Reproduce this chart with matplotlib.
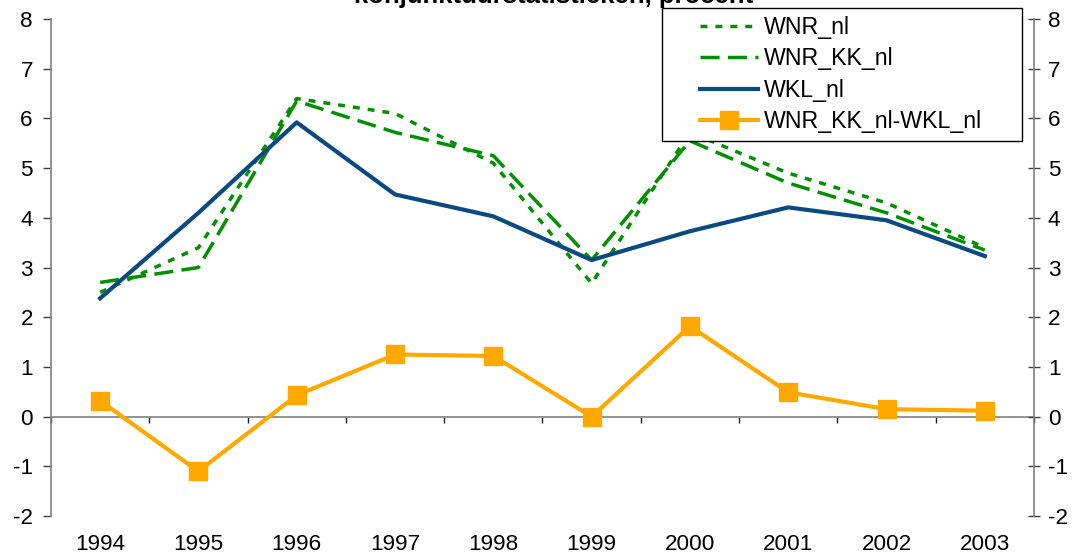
import numpy as np
import matplotlib
matplotlib.use('Agg')
import matplotlib.pyplot as plt
from matplotlib.legend_handler import HandlerLine2D
from matplotlib.transforms import blended_transform_factory

plt.rcParams['font.family'] = ['Liberation Sans', 'DejaVu Sans']
plt.rcParams['axes.unicode_minus'] = False

jaren = ['1994', '1995', '1996', '1997', '1998', '1999', '2000', '2001', '2002', '2003']
wnr_nl = [2.50, 3.40, 6.40, 6.10, 5.10, 2.68, 5.72, 4.90, 4.30, 3.40]
wnr_kk_nl = [2.70, 3.00, 6.35, 5.72, 5.25, 3.15, 5.55, 4.70, 4.10, 3.35]
wkl_nl = [2.38, 4.10, 5.92, 4.47, 4.03, 3.15, 3.73, 4.21, 3.95, 3.23]
verschil = [0.32, -1.10, 0.43, 1.25, 1.22, 0.00, 1.82, 0.49, 0.15, 0.12]
yticks = [-2, -1, 0, 1, 2, 3, 4, 5, 6, 7, 8]

groen = '#009000'
blauw = '#0b4a80'
oranje = '#ffa800'
grijs = '#808080'

fig = plt.figure(figsize=(10.82, 5.56), dpi=100)
ax = fig.add_axes([0.0471, 0.0719, 0.9085, 0.8939])
x = np.arange(len(jaren))

l1, = ax.plot(x, wnr_nl, color=groen, lw=2.5, linestyle=(0, (2, 2.3)), label='WNR_nl', zorder=2)
l2, = ax.plot(x, wnr_kk_nl, color=groen, lw=2.5, linestyle=(0, (5.5, 2.4)), label='WNR_KK_nl', zorder=2)
l3, = ax.plot(x, wkl_nl, color=blauw, lw=3, label='WKL_nl', zorder=3)
l4, = ax.plot(x, verschil, color=oranje, lw=3, marker='s', ms=13, label='WNR_KK_nl-WKL_nl', zorder=4)

ax.set_xlim(-0.5, len(jaren) - 0.5)
ax.set_ylim(-2, 8)
ax.set_yticks(yticks)
ax.tick_params(axis='y', labelsize=16.2, direction='out', length=6, width=1, pad=7, color='#404040')

# x-as op nul, streepjes tussen de categorieen
ax.spines['top'].set_visible(False)
ax.spines['right'].set_visible(False)
ax.spines['bottom'].set_position(('data', 0))
ax.spines['bottom'].set_color(grijs)
ax.spines['left'].set_color(grijs)
ax.spines['bottom'].set_linewidth(1.2)
ax.spines['left'].set_linewidth(1.2)
ax.set_xticks(x)
ax.set_xticklabels([])
ax.set_xticks(np.arange(len(jaren) + 1) - 0.5, minor=True)
ax.tick_params(axis='x', which='major', length=0)
ax.tick_params(axis='x', which='minor', length=4.5, width=1, direction='out', color='#202020')

trans = blended_transform_factory(ax.transData, fig.transFigure)
for i, jaar in enumerate(jaren):
    ax.text(x[i], 0.0198, jaar, transform=trans, ha='center', va='center', fontsize=16.2)

ax2 = ax.twinx()
ax2.set_ylim(-2, 8)
ax2.set_yticks(yticks)
ax2.tick_params(axis='y', labelsize=16.2, direction='inout', length=8, width=1, pad=6, color='#404040')
for s in ['top', 'bottom', 'left']:
    ax2.spines[s].set_visible(False)
ax2.spines['right'].set_color(grijs)
ax2.spines['right'].set_linewidth(1.2)

fig.text(0.512, 0.9946, 'konjunktuurstatistieken, procent', ha='center', va='baseline',
         fontsize=18.5, fontweight='bold')

hm = {l: HandlerLine2D(xpad=1.3) for l in [l1, l2, l3, l4]}
leg = ax2.legend(handles=[l1, l2, l3, l4], handler_map=hm, loc='upper left',
                 bbox_to_anchor=(662 / 1082, 1 - 8 / 556, 360 / 1082, 0.0),
                 bbox_transform=fig.transFigure, mode='expand',
                 fontsize=16.7, frameon=True, fancybox=False, framealpha=1,
                 edgecolor='black', borderpad=0.35, labelspacing=0.36,
                 handlelength=3.8, handletextpad=0.25, borderaxespad=0)
leg.get_frame().set_linewidth(1)
leg.set_zorder(10)

fig.savefig('out.png', dpi=100)
